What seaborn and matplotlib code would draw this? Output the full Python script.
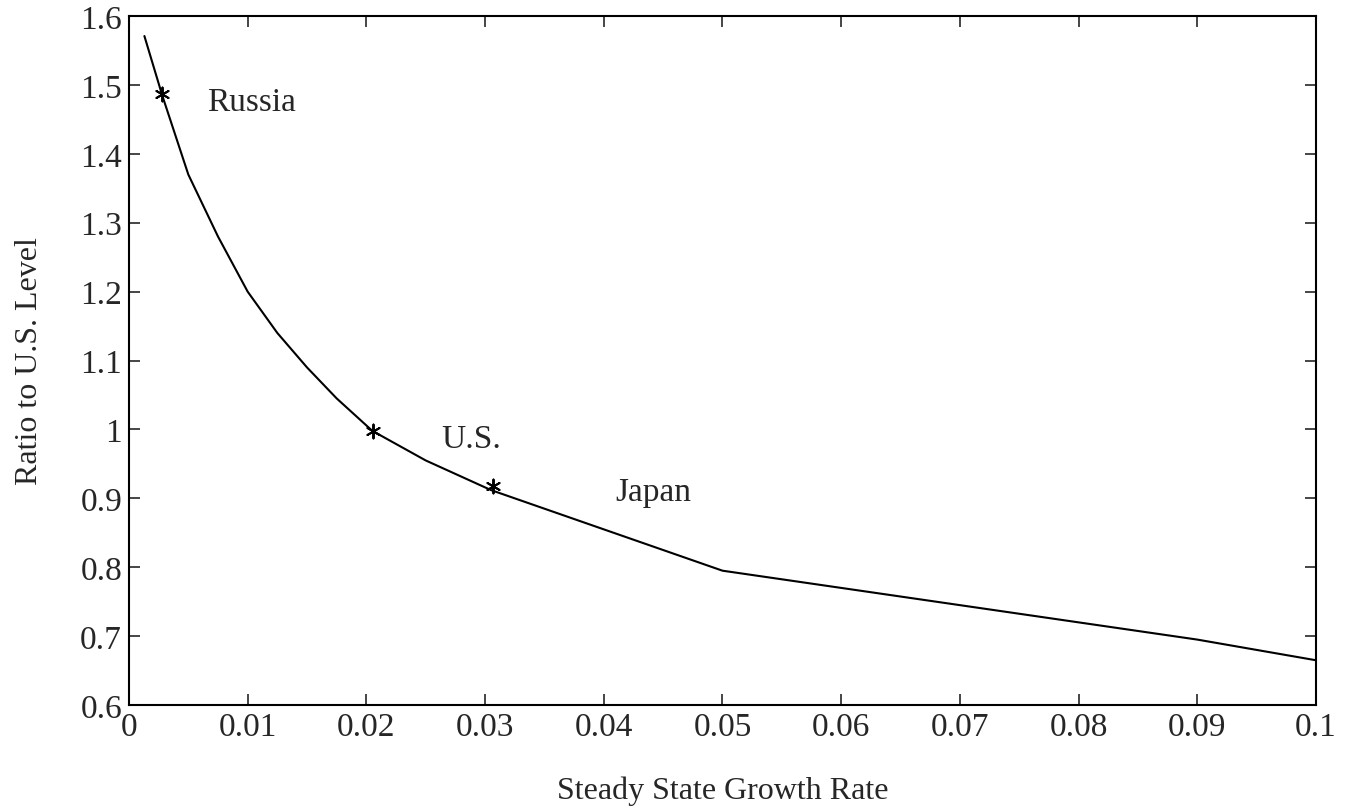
import numpy as np
import pandas as pd
import seaborn as sns
import matplotlib.pyplot as plt

# egri (curve)
growth = [0.0013, 0.0028, 0.005, 0.0075, 0.01, 0.0125, 0.015, 0.0175, 0.0205,
          0.025, 0.0305, 0.035, 0.04, 0.045, 0.05, 0.06, 0.07, 0.08, 0.09, 0.1]
ratio = [1.571, 1.485, 1.37, 1.28, 1.20, 1.14, 1.09, 1.045, 0.998,
         0.955, 0.912, 0.885, 0.855, 0.825, 0.795, 0.770, 0.745, 0.720, 0.695, 0.665]

# ulkeler (countries)
countries = ["Russia", "U.S.", "Japan"]
country_x = [0.0028, 0.0206, 0.0307]
country_y = [1.487, 0.998, 0.918]
label_x = [0.0066, 0.0263, 0.041]
label_y = [1.475, 0.986, 0.909]

df = pd.DataFrame({"growth": growth, "ratio": ratio})
pts = pd.DataFrame({"growth": country_x, "ratio": country_y})

sns.set_style("ticks")
plt.rcParams['font.family'] = ['Liberation Serif', 'DejaVu Serif']

fig = plt.figure(figsize=(13.49, 8.12), dpi=100)
ax = fig.add_axes([0.0956, 0.1305, 0.8799, 0.8485])

sns.lineplot(data=df, x="growth", y="ratio", color="black", linewidth=1.5, ax=ax)
sns.scatterplot(data=pts, x="growth", y="ratio", marker=(6, 2, 0), s=100,
                color="black", linewidth=1.4, ax=ax)
for name, x, y in zip(countries, label_x, label_y):
    ax.text(x, y, name, fontsize=24, va="center", ha="left")

ax.set_xlim(0, 0.1)
ax.set_ylim(0.6, 1.6)
ax.set_xticks(np.arange(0, 0.1001, 0.01))
ax.set_yticks(np.arange(0.6, 1.6001, 0.1))
ax.set_xticklabels([f"{v:g}" for v in np.round(np.arange(0, 0.1001, 0.01), 2)])
ax.set_yticklabels([f"{v:g}" for v in np.round(np.arange(0.6, 1.6001, 0.1), 1)])
ax.tick_params(direction="in", length=8, width=1.2, labelsize=24,
               top=True, right=True, pad=5)
for s in ax.spines.values():
    s.set_linewidth(1.5)
    s.set_color("black")

ax.set_xlabel("Steady State Growth Rate", fontsize=23, labelpad=24)
ax.set_ylabel("Ratio to U.S. Level", fontsize=23, labelpad=26)

fig.savefig("out.png", dpi=100)
